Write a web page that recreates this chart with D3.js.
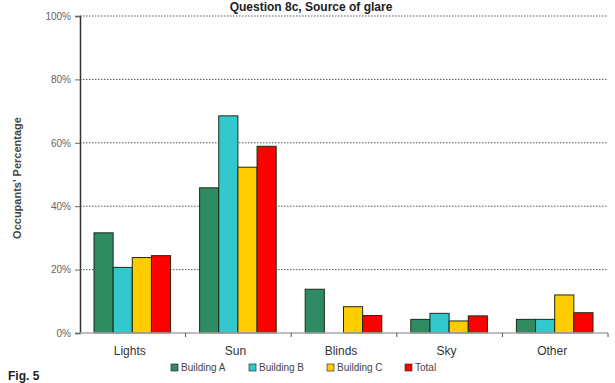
<!DOCTYPE html>
<html>
<head>
<meta charset="utf-8">
<script src="https://cdn.jsdelivr.net/npm/d3@7"></script>
<style>
  body { margin: 0; background: #fff; }
  svg { display: block; font-family: Arial, "Liberation Sans", sans-serif; }
</style>
</head>
<body>
<div id="chart"></div>
<script>
// chart data
const categories = ["Lights", "Sun", "Blinds", "Sky", "Other"];
const seriesNames = ["Building A", "Building B", "Building C", "Total"];
const buildingA = [31.6, 45.8, 13.8, 4.3, 4.3];
const buildingB = [20.7, 68.5, 0, 6.2, 4.3];
const buildingC = [23.8, 52.3, 8.3, 3.8, 12.0];
const total = [24.4, 58.9, 5.5, 5.4, 6.4];
const yTicks = [0, 20, 40, 60, 80, 100];

const colors = ["#2e8b62", "#33c9cc", "#ffcc00", "#ff0000"];
const allSeries = [buildingA, buildingB, buildingC, total];

const W = 615, H = 383;
const margin = {top: 16, right: 7, bottom: 50, left: 80};

let svg = d3.select("#chart").append("svg")
    .attr("width", W)
    .attr("height", H);

let x0 = d3.scaleBand()
    .domain(categories)
    .range([margin.left, W - margin.right])
    .padding(0);

let x1 = d3.scaleBand()
    .domain(seriesNames)
    .range([14, x0.bandwidth() - 15])
    .padding(0);

let y = d3.scaleLinear()
    .domain([0, 100])
    .range([H - margin.bottom, margin.top]);

// title
svg.append("text")
    .attr("x", 311)
    .attr("y", 11)
    .attr("text-anchor", "middle")
    .attr("font-size", 12)
    .attr("font-weight", "bold")
    .attr("fill", "#222")
    .text("Question 8c, Source of glare");

// gridlines
svg.append("g")
    .selectAll("line")
    .data(yTicks.filter(d => d > 0))
    .enter()
    .append("line")
    .attr("x1", margin.left)
    .attr("x2", W - margin.right)
    .attr("y1", d => y(d))
    .attr("y2", d => y(d))
    .attr("stroke", "#555")
    .attr("stroke-width", 1)
    .attr("stroke-dasharray", "1.5,1.5");

// y axis
let yAxis = svg.append("g")
    .attr("transform", `translate(${margin.left},0)`)
    .call(d3.axisLeft(y).tickValues(yTicks).tickFormat(d => d + "%").tickSize(5).tickPadding(4));
yAxis.select(".domain").attr("stroke", "#333").attr("stroke-width", 1.5);
yAxis.selectAll(".tick line").attr("stroke", "#666");
yAxis.selectAll("text").attr("font-size", 10).attr("fill", "#666")
    .attr("font-family", "Arial, 'Liberation Sans', sans-serif");

// y label
svg.append("text")
    .attr("transform", "translate(21,178) rotate(-90)")
    .attr("text-anchor", "middle")
    .attr("font-size", 11)
    .attr("font-weight", "bold")
    .attr("fill", "#444")
    .text("Occupants' Percentage");

// bars
let groups = svg.append("g")
    .selectAll("g")
    .data(categories)
    .enter()
    .append("g")
    .attr("transform", d => `translate(${x0(d)},0)`);

groups.selectAll("rect")
    .data((d, i) => seriesNames.map((s, j) => ({series: s, value: allSeries[j][i], idx: j})))
    .enter()
    .append("rect")
    .filter(d => d.value > 0)
    .attr("x", d => x1(d.series))
    .attr("y", d => y(d.value))
    .attr("width", x1.bandwidth())
    .attr("height", d => y(0) - y(d.value))
    .attr("fill", d => colors[d.idx])
    .attr("stroke", "#1a2a1a")
    .attr("stroke-width", 1);

// x axis
let xAxis = svg.append("g")
    .attr("transform", `translate(0,${y(0)})`);
xAxis.append("line")
    .attr("x1", margin.left)
    .attr("x2", W - margin.right)
    .attr("stroke", "#aaa")
    .attr("stroke-width", 1.5);
xAxis.selectAll(".xtick")
    .data(categories.slice(1).concat(["end"]))
    .enter()
    .append("line")
    .attr("class", "xtick")
    .attr("x1", d => d === "end" ? W - margin.right : x0(d))
    .attr("x2", d => d === "end" ? W - margin.right : x0(d))
    .attr("y1", 0)
    .attr("y2", 4)
    .attr("stroke", "#555");
xAxis.selectAll(".xlabel")
    .data(categories)
    .enter()
    .append("text")
    .attr("class", "xlabel")
    .attr("x", d => x0(d) + x0.bandwidth() / 2 - 3)
    .attr("y", 22)
    .attr("text-anchor", "middle")
    .attr("font-size", 12)
    .attr("fill", "#333")
    .text(d => d);

// legend
let legendX = [171, 249, 327, 405];
let legend = svg.append("g")
    .selectAll("g")
    .data(seriesNames)
    .enter()
    .append("g")
    .attr("transform", (d, i) => `translate(${legendX[i]},364)`);
legend.append("rect")
    .attr("width", 7)
    .attr("height", 7)
    .attr("fill", (d, i) => colors[i])
    .attr("stroke", "#333")
    .attr("stroke-width", 0.7);
legend.append("text")
    .attr("x", 10)
    .attr("y", 7)
    .attr("font-size", 10)
    .attr("fill", "#444")
    .text(d => d);

// figure caption
svg.append("text")
    .attr("x", 8)
    .attr("y", 380)
    .attr("font-size", 12)
    .attr("font-weight", "bold")
    .attr("fill", "#222")
    .text("Fig. 5");
</script>
</body>
</html>
